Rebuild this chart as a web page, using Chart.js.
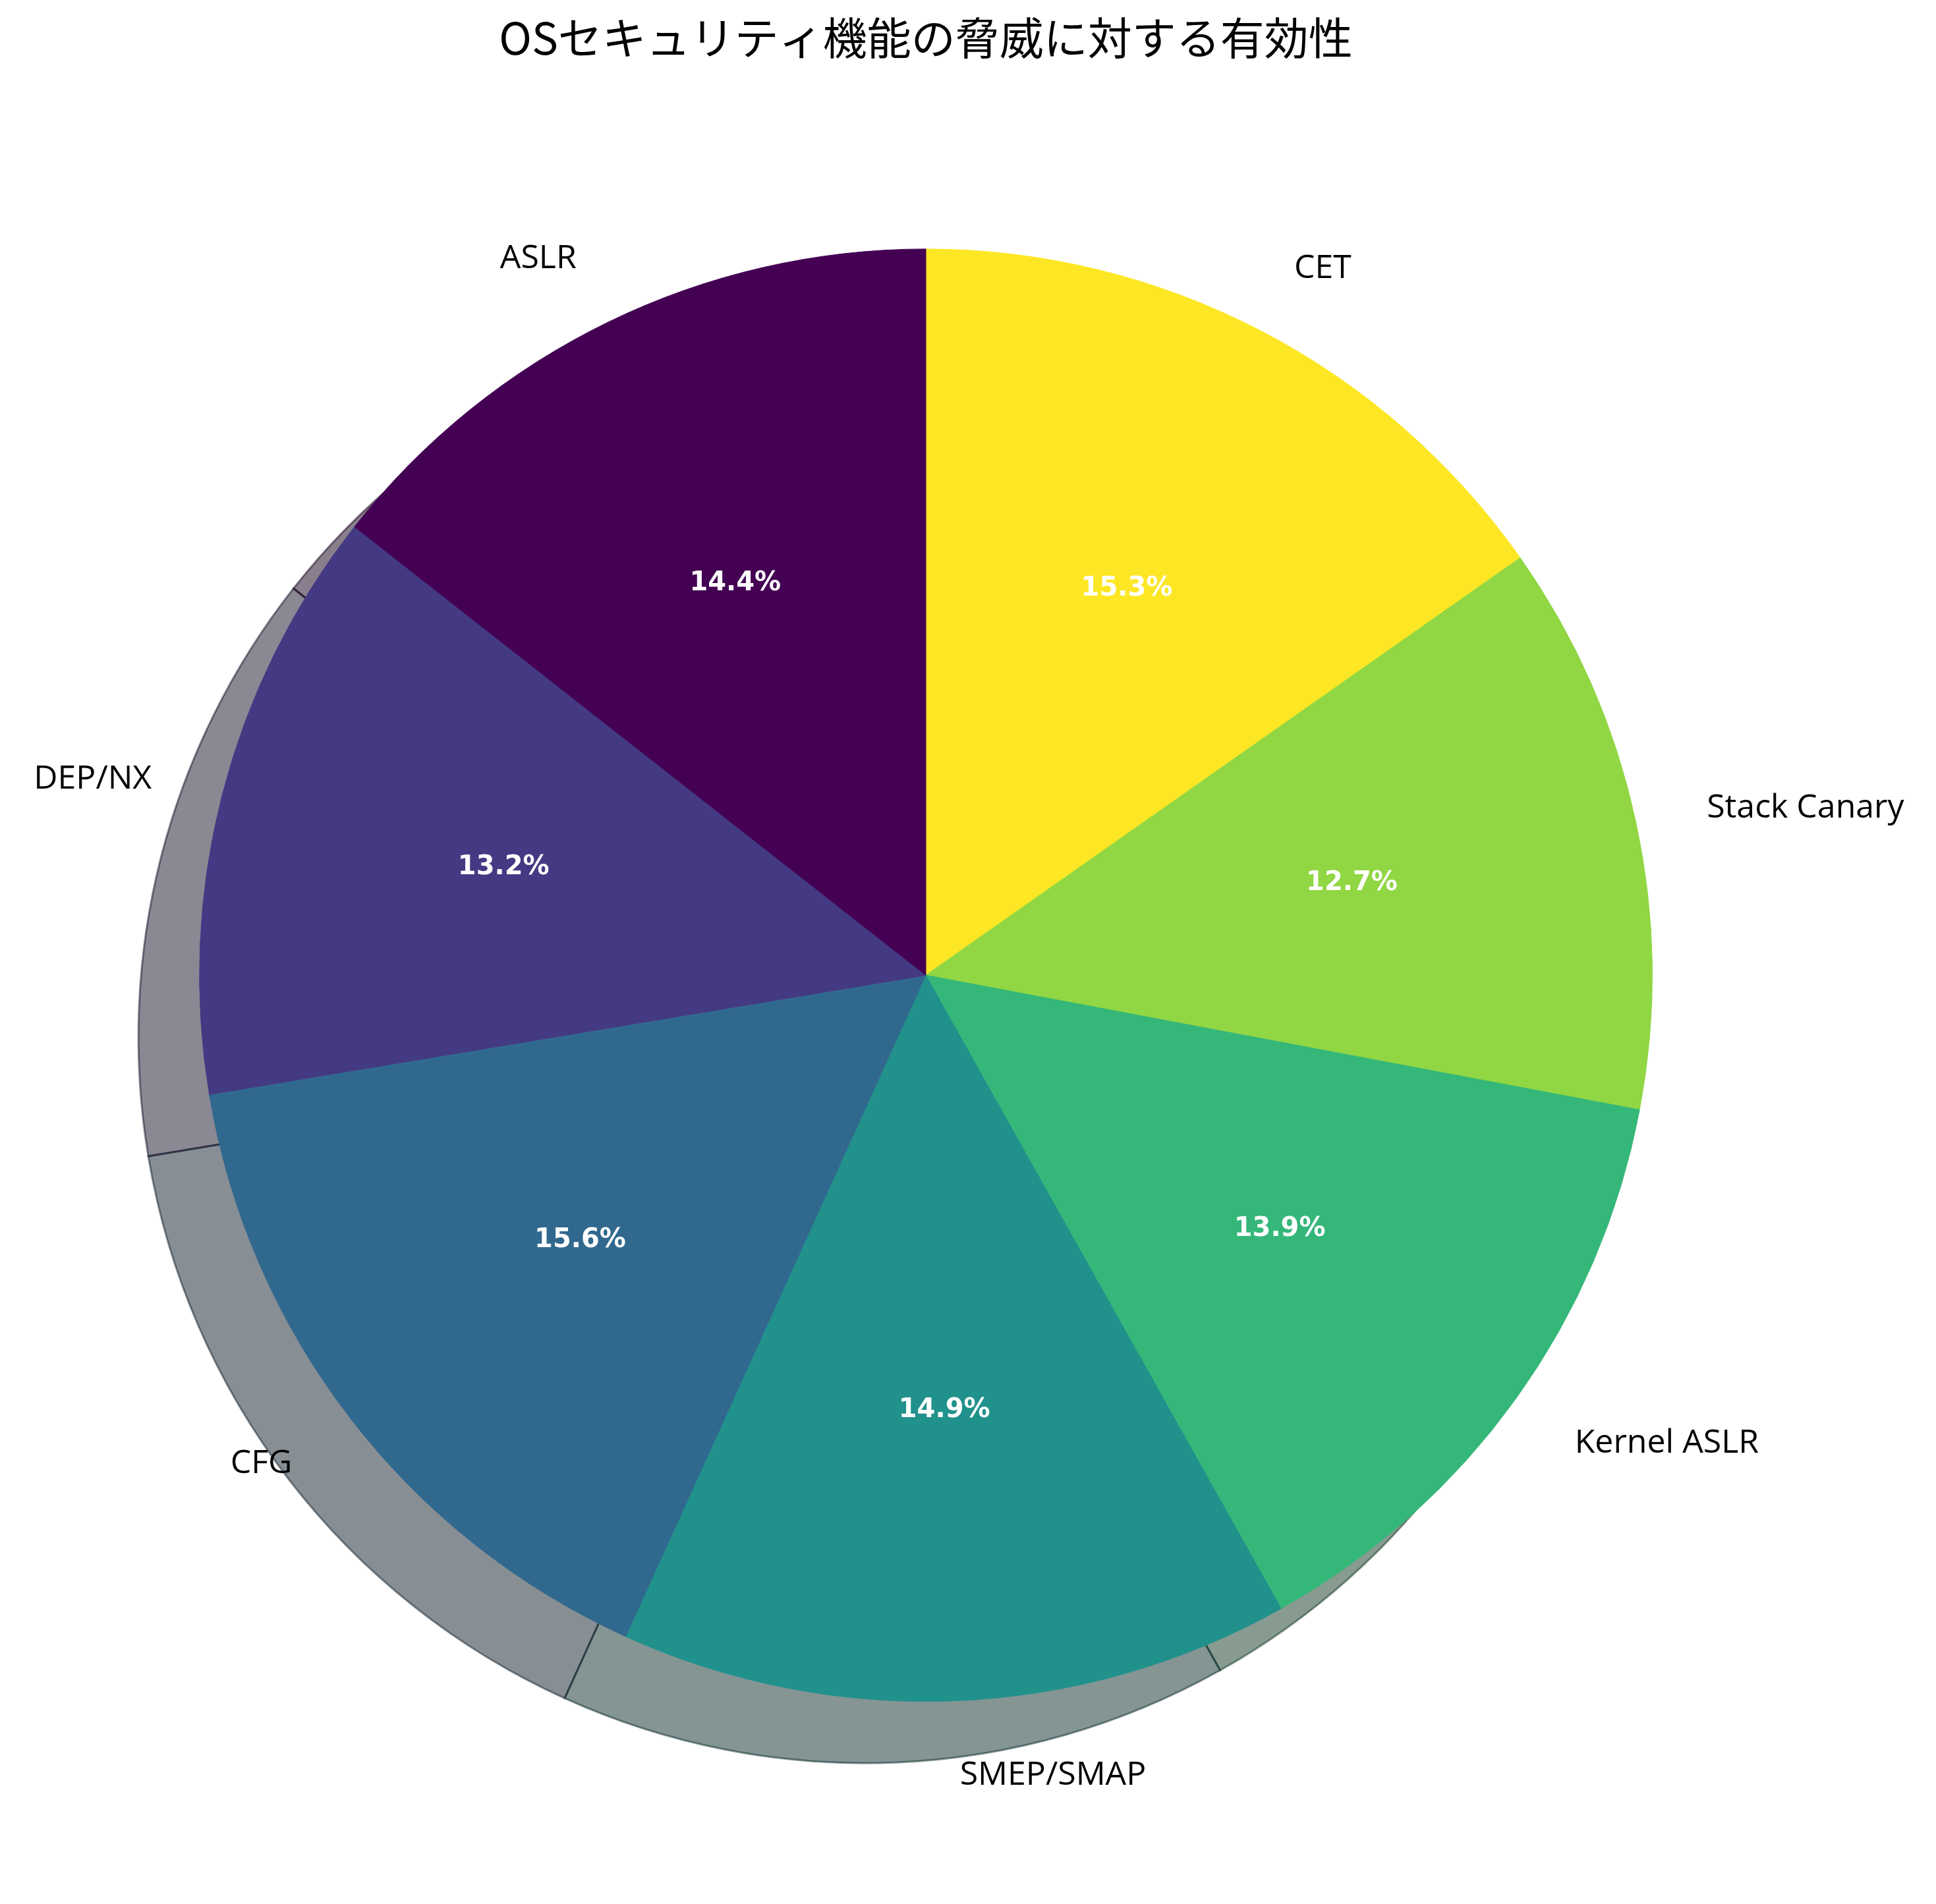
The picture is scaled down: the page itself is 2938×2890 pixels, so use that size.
<!DOCTYPE html>
<html>
<head>
<meta charset="utf-8">
<script src="https://cdn.jsdelivr.net/npm/chart.js@4.4.1/dist/chart.umd.min.js"></script>
<style>
  html, body { margin: 0; padding: 0; background: #ffffff; }
  #wrap { width: 2938px; height: 2890px; position: relative; }
</style>
</head>
<body>
<div id="wrap"><canvas id="c"></canvas></div>
<script>
// ---- data (matplotlib order: counter-clockwise from 12 o'clock) ----
const titleText = 'OSセキュリティ機能の脅威に対する有効性';
const categories = ['ASLR', 'DEP/NX', 'CFG', 'SMEP/SMAP', 'Kernel ASLR', 'Stack Canary', 'CET'];
const effectiveness = [85, 78, 92, 88, 82, 75, 90];
const sliceColors = ['#440154', '#443983', '#31688e', '#21918c', '#35b779', '#90d743', '#fde725'];

// Chart.js draws clockwise, so reverse to reproduce the counter-clockwise layout
const labelsCW = categories.slice().reverse();
const valuesCW = effectiveness.slice().reverse();
const colorsCW = sliceColors.slice().reverse();

function hexToRgb(h) {
  const n = parseInt(h.slice(1), 16);
  return [(n >> 16) & 255, (n >> 8) & 255, n & 255];
}

const shadowPlugin = {
  id: 'pieShadow',
  beforeDatasetsDraw(chart) {
    const ctx = chart.ctx;
    const meta = chart.getDatasetMeta(0);
    const cols = chart.data.datasets[0].backgroundColor;
    ctx.save();
    meta.data.forEach((arc, i) => {
      const p = arc.getProps(['x', 'y', 'startAngle', 'endAngle', 'outerRadius'], true);
      const dx = -0.084 * p.outerRadius, dy = 0.085 * p.outerRadius;
      const [r, g, b] = hexToRgb(cols[i]);
      const c = `rgba(${Math.round(r * 0.3)},${Math.round(g * 0.3)},${Math.round(b * 0.3)},0.5)`;
      ctx.beginPath();
      ctx.moveTo(p.x + dx, p.y + dy);
      ctx.arc(p.x + dx, p.y + dy, p.outerRadius, p.startAngle, p.endAngle);
      ctx.closePath();
      ctx.fillStyle = c;
      ctx.fill();
      ctx.lineWidth = 3;
      ctx.strokeStyle = c;
      ctx.stroke();
    });
    ctx.restore();
  }
};

const labelPlugin = {
  id: 'pieLabels',
  afterDatasetsDraw(chart) {
    const ctx = chart.ctx;
    const meta = chart.getDatasetMeta(0);
    const data = chart.data.datasets[0].data;
    const total = data.reduce((a, b) => a + b, 0);
    ctx.save();
    meta.data.forEach((arc, i) => {
      const p = arc.getProps(['x', 'y', 'startAngle', 'endAngle', 'outerRadius'], true);
      const mid = (p.startAngle + p.endAngle) / 2;
      const c = Math.cos(mid), s = Math.sin(mid);
      // percentage text
      ctx.font = 'bold 40px "DejaVu Sans"';
      ctx.fillStyle = '#ffffff';
      ctx.textAlign = 'center';
      ctx.textBaseline = 'middle';
      ctx.fillText((data[i] / total * 100).toFixed(1) + '%', p.x + 0.6 * p.outerRadius * c, p.y + 0.6 * p.outerRadius * s);
      // category label
      ctx.font = '50px "Open Sans"';
      ctx.fillStyle = '#000000';
      ctx.textAlign = c > 0 ? 'left' : 'right';
      ctx.fillText(chart.data.labels[i], p.x + 1.1 * p.outerRadius * c, p.y + 1.1 * p.outerRadius * s + 3);
    });
    ctx.restore();
  }
};

new Chart(document.getElementById('c'), {
  type: 'pie',
  data: {
    labels: labelsCW,
    datasets: [{
      data: valuesCW,
      backgroundColor: colorsCW,
      borderColor: colorsCW,
      borderWidth: 1
    }]
  },
  options: {
    responsive: true,
    maintainAspectRatio: false,
    devicePixelRatio: 1,
    animation: false,
    rotation: 0,
    layout: { padding: { left: 302, right: 430, top: 0, bottom: 307 } },
    plugins: {
      legend: { display: false },
      tooltip: { enabled: false },
      title: {
        display: true,
        text: titleText,
        color: '#000000',
        font: { family: '"Noto Sans CJK JP"', size: 67, weight: 'normal', lineHeight: 1.2 },
        padding: { top: 17, bottom: 280 }
      }
    }
  },
  plugins: [shadowPlugin, labelPlugin]
});
</script>
</body>
</html>
